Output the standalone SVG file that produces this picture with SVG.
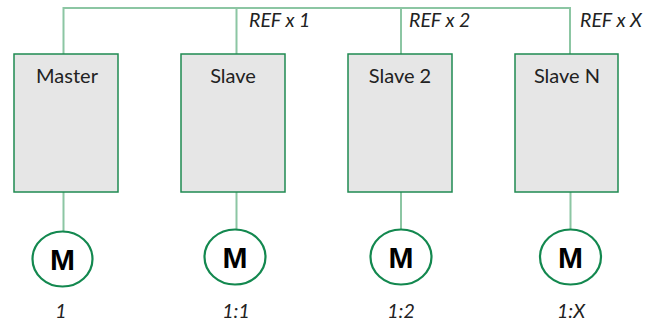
<svg xmlns="http://www.w3.org/2000/svg" width="661" height="321" viewBox="0 0 661 321">
<style>
.box{fill:#e6e6e6;stroke:#1f8a52;stroke-width:1.5}
.mot{fill:#fff;stroke:#13884f;stroke-width:2.2}
.conn{fill:none;stroke:#8cc6a3;stroke-width:2}
.lbl{font-family:Lato,"Open Sans",sans-serif;font-size:20px;fill:#222;text-anchor:middle}
.m{font-family:"Liberation Sans",Arial,sans-serif;font-weight:bold;font-size:30px;fill:#000;text-anchor:middle}
.it{font-family:Lato,"Open Sans",sans-serif;font-style:italic;font-size:19.5px;fill:#222}
</style>
<rect width="661" height="321" fill="#fff"/>
<g id="connectors">
<path class="conn" d="M63.5 54 V8 H570 V54 M236.5 8 V54 M401 8 V54"/>
<path class="conn" d="M63.5 192 V231 M236.5 192 V230 M401 192 V230 M570.5 192 V230"/>
</g>
<g id="master"><rect class="box" x="14" y="54" width="104" height="138"/><text class="lbl" x="67" y="83">Master</text></g>
<g id="slave"><rect class="box" x="181" y="54" width="104" height="138"/><text class="lbl" x="233" y="83">Slave</text></g>
<g id="slave2"><rect class="box" x="348" y="54" width="104" height="138"/><text class="lbl" x="400" y="83">Slave 2</text></g>
<g id="slaveN"><rect class="box" x="515" y="54" width="103" height="138"/><text class="lbl" x="567" y="83">Slave N</text></g>
<g id="motor1"><ellipse class="mot" cx="62.5" cy="259" rx="30" ry="27.5"/><text class="m" x="62.5" y="270">M</text></g>
<g id="motor2"><ellipse class="mot" cx="235" cy="257" rx="30.5" ry="27.5"/><text class="m" x="235" y="268">M</text></g>
<g id="motor3"><ellipse class="mot" cx="401" cy="257" rx="30.5" ry="27.5"/><text class="m" x="401" y="268">M</text></g>
<g id="motor4"><ellipse class="mot" cx="570.5" cy="257" rx="30.5" ry="27.5"/><text class="m" x="570.5" y="268">M</text></g>
<g id="labels">
<text class="it" x="249" y="27">REF x 1</text>
<text class="it" x="409" y="27">REF x 2</text>
<text class="it" x="580" y="27">REF x X</text>
<text class="it" x="61" y="318" text-anchor="middle">1</text>
<text class="it" x="236" y="318" text-anchor="middle">1:1</text>
<text class="it" x="401" y="318" text-anchor="middle">1:2</text>
<text class="it" x="571" y="318" text-anchor="middle">1:X</text>
</g>
</svg>
